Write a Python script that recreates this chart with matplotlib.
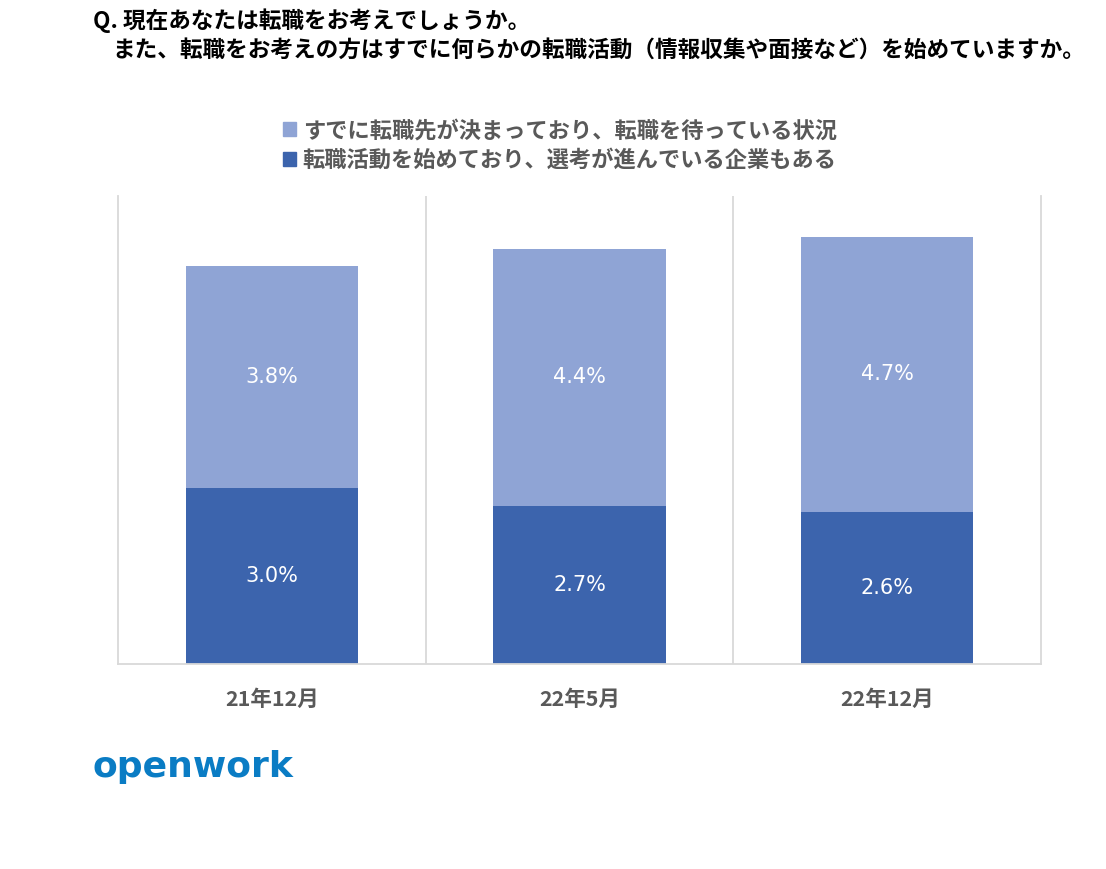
import numpy as np
import matplotlib.pyplot as plt
from matplotlib.patches import Patch

plt.rcParams['font.family'] = ['Noto Sans CJK JP', 'DejaVu Sans']

# data
periods = ["21年12月", "22年5月", "22年12月"]
active = [3.0, 2.7, 2.6]      # 転職活動を始めており、選考が進んでいる企業もある
decided = [3.8, 4.4, 4.7]     # すでに転職先が決まっており、転職を待っている状況

dark = "#3C64AD"
light = "#8FA4D5"
grey = "#595959"

fig = plt.figure(figsize=(11.06, 8.69), dpi=100)
ax = fig.add_axes([0.1067, 0.2359, 0.8345, 0.5386])

x = np.arange(len(periods))
ax.bar(x, active, width=0.56, color=dark)
ax.bar(x, decided, width=0.56, bottom=active, color=light)

for i in range(len(periods)):
    ax.text(x[i], active[i] / 2, f"{active[i]:.1f}%", ha="center", va="center",
            color="white", fontsize=15, family="DejaVu Sans")
    ax.text(x[i], active[i] + decided[i] / 2, f"{decided[i]:.1f}%", ha="center",
            va="center", color="white", fontsize=15, family="DejaVu Sans")

ax.set_xlim(-0.5, len(periods) - 0.5)
ax.set_ylim(0, 8.0)
ax.set_yticks([])
ax.set_xticks(x)
ax.set_xticklabels(periods, fontsize=15.5, fontweight="bold", color=grey)
ax.tick_params(axis="x", length=0, pad=18)
for sep in np.arange(0.5, len(periods) - 0.5, 1):
    ax.axvline(sep, color="#D9D9D9", lw=1.3)
for s in ["left", "right", "bottom"]:
    ax.spines[s].set_color("#D9D9D9")
    ax.spines[s].set_linewidth(1.3)
ax.spines["top"].set_visible(False)

# legend
handles = [Patch(color=light, label="すでに転職先が決まっており、転職を待っている状況"),
           Patch(color=dark, label="転職活動を始めており、選考が進んでいる企業もある")]
leg = fig.legend(handles=handles, loc="upper center", bbox_to_anchor=(0.506, 0.886),
                 frameon=False, handlelength=0.6, handleheight=0.6, handletextpad=0.3,
                 labelspacing=0.3, prop={"size": 16, "weight": "bold"})
for t in leg.get_texts():
    t.set_color(grey)

# title
fig.text(0.084, 0.990, "Q. 現在あなたは転職をお考えでしょうか。", fontsize=16.3,
         fontweight="bold", va="top", ha="left")
fig.text(0.102, 0.955, "また、転職をお考えの方はすでに何らかの転職活動（情報収集や面接など）を始めていますか。",
         fontsize=16.3, fontweight="bold", va="top", ha="left")

# logo
fig.text(0.084, 0.117, "openwork", fontsize=26, fontweight="bold", color="#0A7CC4",
         family="DejaVu Sans", va="center", ha="left")

fig.savefig("out.png", dpi=100)
